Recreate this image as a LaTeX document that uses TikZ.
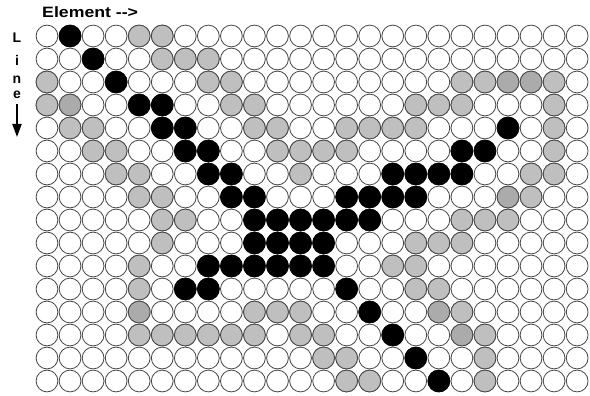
\documentclass[tikz,border=0pt]{standalone}
\usepackage{fontspec}
\setmainfont{Liberation Sans}
\usetikzlibrary{arrows.meta}
\begin{document}
\begin{tikzpicture}[x=1pt,y=-1pt]
\tikzset{
  cell/.style={draw=black!72,line width=0.8pt},
  lbl/.style={font=\bfseries\fontsize{14}{14}\selectfont,anchor=base,inner sep=0pt},
}
\definecolor{lg}{gray}{0.75}
\definecolor{dg}{gray}{0.67}
\useasboundingbox (0,0) rectangle (590,396);
\fill[white] (0,0) rectangle (590,396);
% white grid
\foreach \r in {0,...,15}{
  \foreach \c in {0,...,23}{
    \draw[cell,fill=white] ({47+23.05*\c},{36+23*\r}) circle[radius=10.9pt];
  }
}
% light gray cells (column/row)
\foreach \c/\r in {4/0,5/0,
  5/1,6/1,7/1,
  0/2,7/2,8/2,18/2,19/2,22/2,
  0/3,8/3,9/3,16/3,17/3,18/3,22/3,
  1/4,2/4,9/4,10/4,13/4,14/4,15/4,16/4,22/4,
  2/5,3/5,10/5,11/5,12/5,13/5,22/5,
  3/6,4/6,11/6,21/6,22/6,
  4/7,5/7,21/7,
  5/8,6/8,18/8,19/8,20/8,
  5/9,16/9,17/9,18/9,
  4/10,15/10,16/10,
  4/11,16/11,17/11,
  9/12,10/12,11/12,18/12,
  4/13,5/13,6/13,7/13,8/13,9/13,11/13,12/13,19/13,
  12/14,13/14,19/14,
  13/15,14/15,19/15}{
  \draw[cell,fill=lg] ({47+23.05*\c},{36+23*\r}) circle[radius=10.9pt];
}
% darker gray cells
\foreach \c/\r in {20/2,21/2,1/3,20/7,4/12,17/12,18/13}{
  \draw[cell,fill=dg] ({47+23.05*\c},{36+23*\r}) circle[radius=10.9pt];
}
% black cells
\foreach \c/\r in {1/0,2/1,3/2,4/3,5/3,
  5/4,6/4,20/4,
  6/5,7/5,18/5,19/5,
  7/6,8/6,15/6,16/6,17/6,18/6,
  8/7,9/7,13/7,14/7,15/7,16/7,
  9/8,10/8,11/8,12/8,13/8,14/8,
  9/9,10/9,11/9,12/9,
  7/10,8/10,9/10,10/10,11/10,12/10,
  6/11,7/11,13/11,
  14/12,15/13,16/14,17/15}{
  \draw[draw=black,line width=0.8pt,fill=black] ({47+23.05*\c},{36+23*\r}) circle[radius=10.9pt];
}
% labels
\node[anchor=base west,inner sep=0pt,font=\bfseries\fontsize{15}{15}\selectfont] (elem) at (42,18) {\scalebox{1.18}[1]{Element -\mbox{}-\mbox{}>}};
\node[lbl] (lL) at (17,43) {L};
\node[lbl] (li) at (17,66) {i};
\node[lbl] (ln) at (17,84) {n};
\node[lbl] (le) at (17,99) {e};
\coordinate (arrS) at (17,104);
\coordinate (arrE) at (17,137);
\draw[line width=2pt,-{Triangle[length=13pt,width=9pt]}] (arrS) -- (arrE);
\end{tikzpicture}
\end{document}
